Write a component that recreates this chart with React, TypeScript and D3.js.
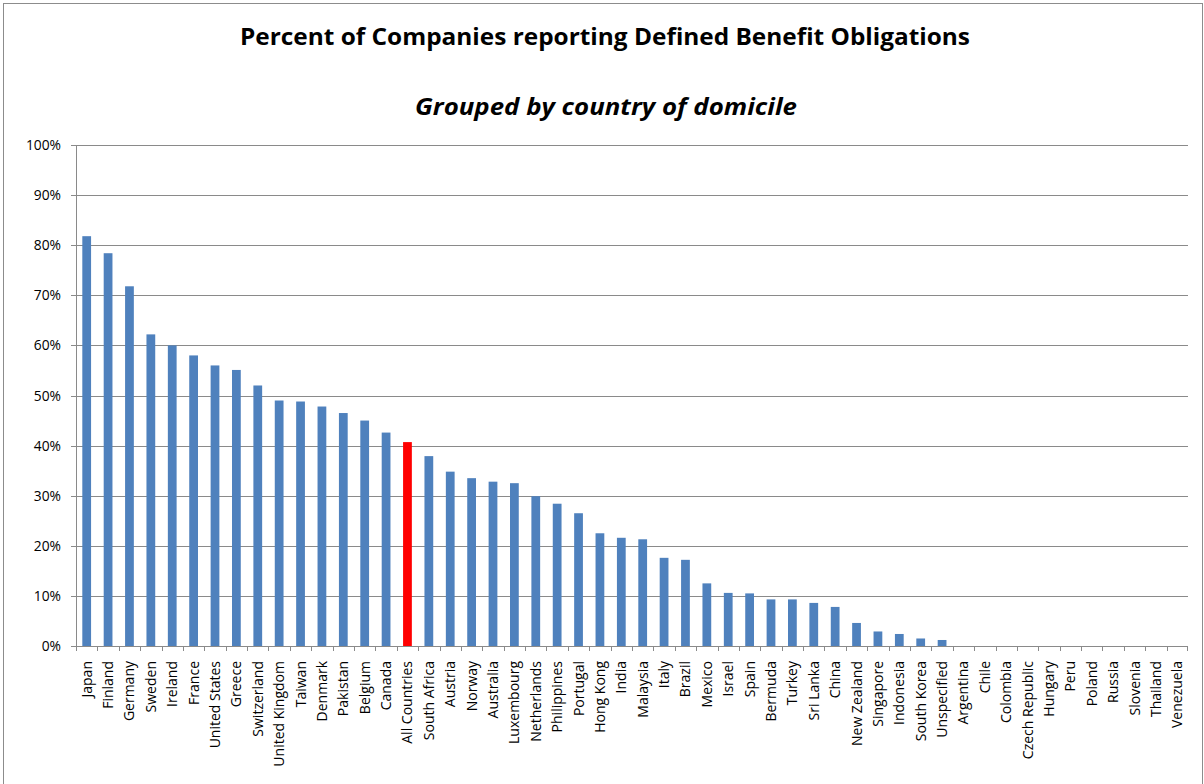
import React from "react";
import * as d3 from "d3";

const countries = [
  "Japan", "Finland", "Germany", "Sweden", "Ireland", "France", "United States", "Greece",
  "Switzerland", "United Kingdom", "Taiwan", "Denmark", "Pakistan", "Belgium", "Canada",
  "All Countries", "South Africa", "Austria", "Norway", "Australia", "Luxembourg", "Netherlands",
  "Philippines", "Portugal", "Hong Kong", "India", "Malaysia", "Italy", "Brazil", "Mexico",
  "Israel", "Spain", "Bermuda", "Turkey", "Sri Lanka", "China", "New Zealand", "Singapore",
  "Indonesia", "South Korea", "Unspecified", "Argentina", "Chile", "Colombia", "Czech Republic",
  "Hungary", "Peru", "Poland", "Russia", "Slovenia", "Thailand", "Venezuela",
];

const percentValues = [
  81.8, 78.4, 71.8, 62.2, 60.0, 58.0, 56.0, 55.1,
  52.0, 49.0, 48.8, 47.8, 46.5, 45.0, 42.6,
  40.7, 37.9, 34.8, 33.5, 32.8, 32.5, 29.9,
  28.4, 26.5, 22.5, 21.6, 21.3, 17.6, 17.2, 12.5,
  10.6, 10.5, 9.3, 9.3, 8.6, 7.8, 4.6, 2.9,
  2.4, 1.5, 1.2, 0, 0, 0, 0,
  0, 0, 0, 0, 0, 0, 0,
];

const highlighted = ["All Countries"];
const yTicks = [0, 10, 20, 30, 40, 50, 60, 70, 80, 90, 100];

const W = 1204;
const H = 784;
const left = 76;
const right = 1188;
const top = 145;
const bottom = 646;

export default function App() {
  const x = d3.scaleBand<string>().domain(countries).range([left, right]).paddingInner(0).paddingOuter(0);
  const y = d3.scaleLinear().domain([0, 100]).range([bottom, top]);
  const bw = x.bandwidth() * 0.41;
  const font = "'Open Sans', 'Liberation Sans', sans-serif";
  const gridColor = "#8a8a8a";

  return (
    <svg width={W} height={H} style={{ position: "absolute", left: 0, top: 0, background: "#fff" }}>
      <rect x={3.5} y={3.5} width={W - 5} height={H + 10} fill="#fff" stroke="#8c8c8c" strokeWidth={1} />
      <text x={605} y={45} textAnchor="middle" fontFamily={font} fontWeight="bold" fontSize={23}
        textLength={730} lengthAdjust="spacingAndGlyphs" fill="#000">
        Percent of Companies reporting Defined Benefit Obligations
      </text>
      <text x={606} y={115} textAnchor="middle" fontFamily={font} fontWeight="bold" fontStyle="italic" fontSize={23}
        textLength={382} lengthAdjust="spacingAndGlyphs" fill="#000">
        Grouped by country of domicile
      </text>
      {yTicks.map((t) => (
        <g key={t}>
          {t > 0 && (
            <line x1={left} x2={right} y1={Math.round(y(t)) + 0.5} y2={Math.round(y(t)) + 0.5} stroke={gridColor} strokeWidth={1} />
          )}
          <line x1={left - 5} x2={left} y1={Math.round(y(t)) + 0.5} y2={Math.round(y(t)) + 0.5} stroke={gridColor} />
          <text x={61} y={y(t) + 5} textAnchor="end" fontFamily={font} fontSize={13.8} fill="#000">
            {t}%
          </text>
        </g>
      ))}
      {countries.map((c, i) => (
        <rect key={c} x={(x(c) as number) + (x.bandwidth() - bw) / 2} y={y(percentValues[i])}
          width={bw} height={bottom - y(percentValues[i])}
          fill={highlighted.includes(c) ? "#FF0000" : "#4F81BD"} />
      ))}
      <line x1={left + 0.5} x2={left + 0.5} y1={top} y2={bottom} stroke={gridColor} />
      <line x1={left} x2={right} y1={bottom + 0.5} y2={bottom + 0.5} stroke={gridColor} />
      {countries.map((c) => (
        <line key={"t" + c} x1={Math.round(x(c) as number) + 0.5} x2={Math.round(x(c) as number) + 0.5}
          y1={bottom} y2={bottom + 5} stroke={gridColor} />
      ))}
      <line x1={right - 0.5} x2={right - 0.5} y1={bottom} y2={bottom + 5} stroke={gridColor} />
      {countries.map((c) => {
        const cx = (x(c) as number) + x.bandwidth() / 2;
        return (
          <text key={"l" + c} transform={`translate(${cx + 5},${661}) rotate(-90)`} textAnchor="end"
            fontFamily={font} fontSize={14} fill="#000">
            {c}
          </text>
        );
      })}
    </svg>
  );
}
